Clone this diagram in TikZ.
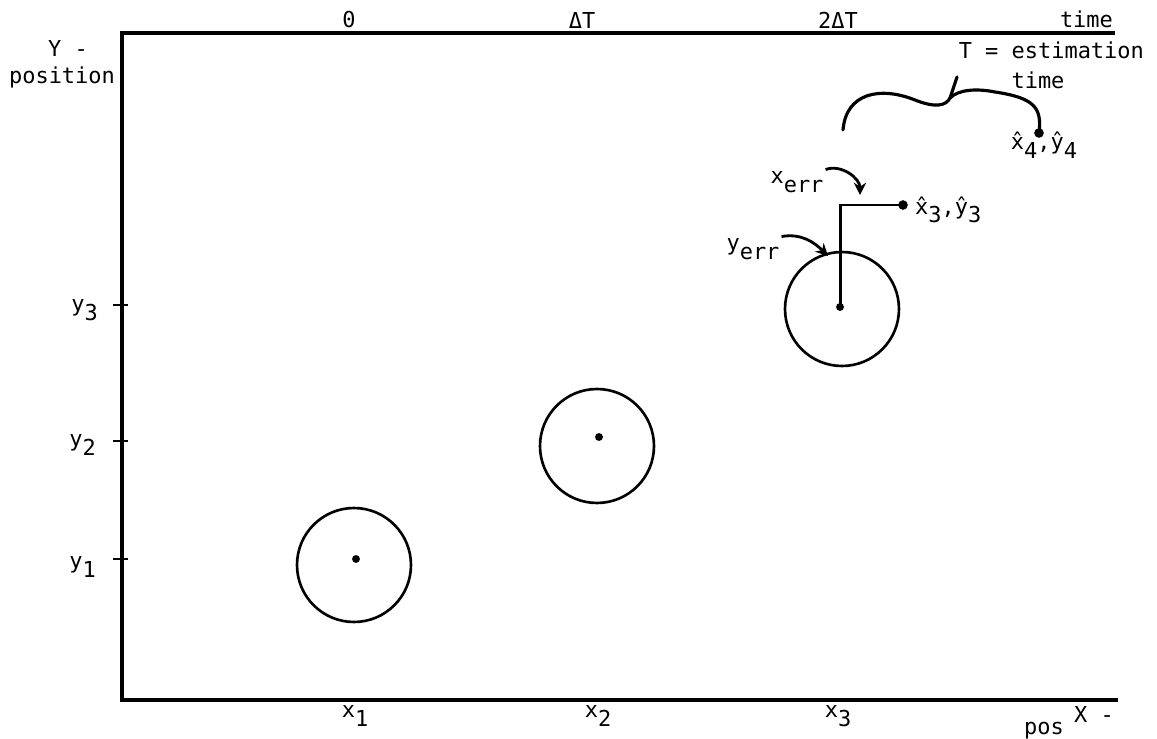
\documentclass[tikz,border=0pt]{standalone}
\usepackage{fontspec}
\setmainfont{DejaVu Sans Mono}
\usepackage{tikz}
\usetikzlibrary{arrows.meta,positioning}
\newcommand{\lowsub}[1]{\raisebox{-0.7ex}{#1}}
\tikzset{
  axis/.style={line width=2pt,draw=black},
  tick/.style={line width=1.2pt,draw=black},
  ring/.style={circle,draw=black,line width=1.5pt,minimum size=2.28cm,inner sep=0pt},
  pt/.style={circle,fill=black,inner sep=0pt,minimum size=4.5pt},
  errl/.style={line width=1.7pt,draw=black},
  brc/.style={line width=1.8pt,draw=black,line cap=round},
  lbl/.style={font=\fontsize{12.5}{15}\selectfont,inner sep=1pt},
  carr/.style={-{Stealth[length=7pt,width=7pt]},line width=1.6pt,draw=black},
}
\begin{document}
\begin{tikzpicture}[x=0.02cm,y=0.02cm]
  \useasboundingbox (0,0) rectangle (1157,738);
  % eixos
  \draw[axis] (1115,705) -- (122,705) -- (122,38) -- (1118,38);
  \foreach \y in {433,297,179} { \draw[tick] (113,\y) -- (128,\y); }
  \node[lbl] (ylab) at (68,690) {Y -};
  \node[lbl] (ypos) at (62,661) {position};
  \node[lbl,anchor=east] (y3) at (100,428) {y\lowsub{3}};
  \node[lbl,anchor=east] (y2) at (98,293) {y\lowsub{2}};
  \node[lbl,anchor=east] (y1) at (98,171) {y\lowsub{1}};
  \node[lbl] (x1) at (355,22) {x\lowsub{1}};
  \node[lbl] (x2) at (598,22) {x\lowsub{2}};
  \node[lbl] (x3) at (838,22) {x\lowsub{3}};
  \node[lbl] (xlab) at (1094,24) {X -};
  \node[lbl,anchor=west] (xpos) at (1022,7) {pos};
  % tempo
  \node[lbl] (t0) at (349,718) {0};
  \node[lbl] (t1) at (582,718) {ΔT};
  \node[lbl] (t2) at (838,718) {2ΔT};
  \node[lbl,anchor=base east] (tt) at (1115,710) {time};
  \node[lbl,anchor=east] (test) at (1146,688) {T = estimation};
  \node[lbl] (test2) at (1038,658) {time};
  % medidas
  \node[ring] (c1) at (354,173) {};
  \node[pt] (p1) at (356,179) {};
  \node[ring] (c2) at (597,292) {};
  \node[pt] (p2) at (599,301) {};
  \node[ring] (c3) at (842,429) {};
  \node[pt] (p3) at (840,431) {};
  % estimativa e erros
  \node[pt,minimum size=5.5pt] (e3) at (903,533) {};
  \draw[errl] (p3.center) |- (e3.center);
  \node[lbl,anchor=west] (e3lab) at (913,528) {\^{x}\lowsub{3},\^{y}\lowsub{3}};
  \node[lbl] (xerr) at (797,556) {x\lowsub{err}};
  \coordinate (xtip) at (860,543);
  \draw[carr] (xerr.north east) to[out=20,in=90] (xtip);
  \node[lbl] (yerr) at (753,489) {y\lowsub{err}};
  \coordinate (ytip) at (828,482);
  \draw[carr] (yerr.north east) to[out=10,in=135] (ytip);
  % chave ate T
  \coordinate (bl) at (843,608);
  \coordinate (bc) at (950,640);
  \coordinate (bs) at (957,661);
  \node[pt,minimum size=5.5pt] (e4) at (1039,605) {};
  \draw[brc] (bl) .. controls (846,645) and (880,652) .. (915,638)
    .. controls (935,630) and (946,632) .. (bc)
    .. controls (958,648) and (975,650) .. (995,646)
    .. controls (1035,640) and (1042,630) .. (e4.center);
  \draw[brc] (bc) .. controls (953,650) .. (bs);
  \node[lbl,anchor=north] (e4lab) at (1044,608) {\^{x}\lowsub{4},\^{y}\lowsub{4}};
\end{tikzpicture}
\end{document}
